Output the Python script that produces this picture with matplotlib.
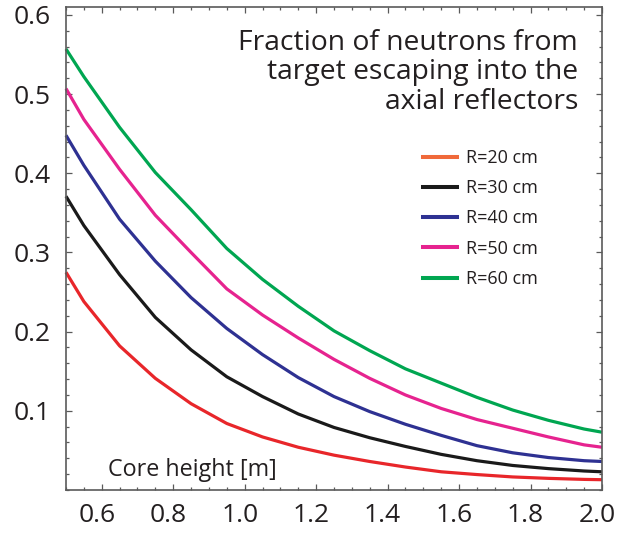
import matplotlib
matplotlib.use("Agg")
import matplotlib.pyplot as plt
from matplotlib.lines import Line2D
from matplotlib.ticker import MultipleLocator, FormatStrFormatter
from matplotlib.transforms import ScaledTranslation

plt.rcParams['font.family'] = ['Open Sans', 'DejaVu Sans']

# Core height [m]
core_height = [0.50, 0.55, 0.65, 0.75, 0.85, 0.95, 1.05, 1.15, 1.25,
               1.35, 1.45, 1.55, 1.65, 1.75, 1.85, 1.95, 2.00]

# Escaping fraction per target radius
frac_r20 = [0.275, 0.238, 0.182, 0.141, 0.109, 0.084, 0.067, 0.054, 0.044,
            0.036, 0.029, 0.023, 0.0195, 0.0165, 0.0147, 0.0134, 0.013]
frac_r30 = [0.371, 0.334, 0.272, 0.218, 0.177, 0.143, 0.118, 0.096, 0.079,
            0.066, 0.055, 0.045, 0.037, 0.031, 0.027, 0.024, 0.023]
frac_r40 = [0.448, 0.410, 0.342, 0.289, 0.243, 0.204, 0.171, 0.142, 0.118,
            0.099, 0.083, 0.069, 0.056, 0.047, 0.041, 0.037, 0.036]
frac_r50 = [0.507, 0.468, 0.405, 0.347, 0.300, 0.254, 0.221, 0.192, 0.165,
            0.141, 0.120, 0.103, 0.089, 0.078, 0.067, 0.057, 0.054]
frac_r60 = [0.557, 0.522, 0.458, 0.401, 0.354, 0.305, 0.266, 0.232, 0.201,
            0.176, 0.153, 0.135, 0.117, 0.101, 0.088, 0.077, 0.073]

labels = ["R=20 cm", "R=30 cm", "R=40 cm", "R=50 cm", "R=60 cm"]
line_colors = ["#e8262a", "#1a1a1a", "#2e3192", "#e6238f", "#00a651"]
legend_colors = ["#f0693a", "#1a1a1a", "#2e3192", "#e6238f", "#00a651"]

series = [frac_r20, frac_r30, frac_r40, frac_r50, frac_r60]

fig = plt.figure(figsize=(6.17, 5.36), dpi=100)
ax = fig.add_axes([66 / 617, 1 - 490 / 536, (602 - 66) / 617, (490 - 7) / 536])

for ys, c in zip(series, line_colors):
    ax.plot(core_height, ys, color=c, lw=2.3, solid_capstyle='butt',
            solid_joinstyle='round', clip_on=False)

ax.set_xlim(0.5, 2.0)
ax.set_ylim(0.0, 0.61)

ax.xaxis.set_major_locator(MultipleLocator(0.2))
ax.xaxis.set_minor_locator(MultipleLocator(0.05))
ax.yaxis.set_major_locator(MultipleLocator(0.1))
ax.yaxis.set_minor_locator(MultipleLocator(0.02))
ax.xaxis.set_major_formatter(FormatStrFormatter('%.1f'))
ax.yaxis.set_major_formatter(FormatStrFormatter('%.1f'))

ink = "#231f20"
spine_col = "#5a5a5a"
for s in ax.spines.values():
    s.set_color(spine_col)
    s.set_linewidth(1.2)

ax.tick_params(which='both', direction='in', top=True, right=True,
               color=spine_col, labelcolor=ink, labelsize=19, width=0.9)
ax.tick_params(which='major', length=4)
ax.tick_params(which='minor', length=2.5)
ax.tick_params(axis='y', which='major', pad=11)
ax.tick_params(axis='x', which='major', pad=9)

# no 0.0 label on the y axis
ax.set_yticks([0.1, 0.2, 0.3, 0.4, 0.5, 0.6])

# nudge x tick labels slightly left so the last one stays inside the figure
shift = ScaledTranslation(-5 / 100, 0, fig.dpi_scale_trans)
for lbl in ax.get_xticklabels():
    lbl.set_transform(lbl.get_transform() + shift)

ax.text(0.955, 0.955, "Fraction of neutrons from\ntarget escaping into the\naxial reflectors",
        transform=ax.transAxes, ha='right', va='top', fontsize=20.3,
        color=ink, linespacing=1.08, multialignment='right')

ax.text(0.078, 0.028, "Core height [m]", transform=ax.transAxes,
        ha='left', va='baseline', fontsize=16.8, color=ink)

handles = [Line2D([], [], color=c, lw=2.9) for c in legend_colors]
leg = ax.legend(handles, labels, loc='upper left', bbox_to_anchor=(0.6495, 0.725),
                frameon=False, fontsize=13, handlelength=1.85,
                handletextpad=0.5, labelspacing=0.68, borderpad=0)
for t in leg.get_texts():
    t.set_color(ink)

fig.savefig("out.png", dpi=100)
